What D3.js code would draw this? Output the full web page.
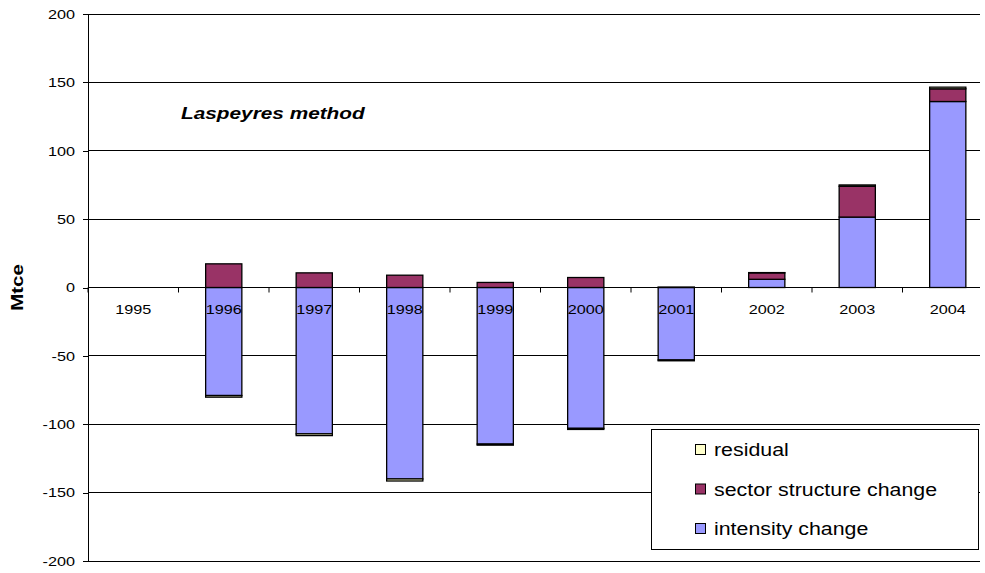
<!DOCTYPE html>
<html><head><meta charset="utf-8">
<script src="https://cdn.jsdelivr.net/npm/d3@7"></script>
<style>body{margin:0;background:#fff}svg{display:block;font-family:"Liberation Sans",Arial,sans-serif}</style>
</head><body><svg id="c" width="985" height="573"></svg>
<script>
const years = ["1995","1996","1997","1998","1999","2000","2001","2002","2003","2004"];
const intensity = [0, -79, -107, -140, -114.5, -103, -53, 6, 51.5, 136];
const sector = [0, 17.3, 10.7, 9, 3.7, 7.3, 0.3, 4.7, 22.5, 9.3];
const residual = [0, -1.2, -1.3, -1.5, -0.8, -0.8, -0.6, 0.2, 1, 1.2];
const yTicks = [-200,-150,-100,-50,0,50,100,150,200];
const seriesNames = ["intensity change","sector structure change","residual"];
const colors = {"intensity change":"#9999FF","sector structure change":"#993366","residual":"#FFFFCC"};

const svg = d3.select("#c");
const L=88, R=980, T=14, B=561;
const step = 90.5;
const x = d3.scaleBand().domain(years).range([L, L + step*years.length]).paddingInner(0.6).paddingOuter(0.3);
const y = d3.scaleLinear().domain([-200,200]).range([B,T]);

function stretch(sel, ratio){
  sel.each(function(){
    const len = this.getComputedTextLength();
    d3.select(this).attr("textLength", len*ratio).attr("lengthAdjust","spacingAndGlyphs");
  });
}

const rows = years.map((yr,i)=>({year:yr,"intensity change":intensity[i],"sector structure change":sector[i],"residual":residual[i]}));
const stack = d3.stack().keys(seriesNames).offset(d3.stackOffsetDiverging);
const layers = stack(rows);

// grid
svg.append("g").selectAll("line").data(yTicks).join("line")
  .attr("x1",L).attr("x2",R).attr("y1",d=>y(d)).attr("y2",d=>y(d))
  .attr("stroke","#000").attr("stroke-width",1).attr("shape-rendering","crispEdges");

// y axis
const ya = svg.append("g").attr("transform",`translate(${L},0)`)
  .call(d3.axisLeft(y).tickValues(yTicks).tickFormat(d=>String(d)).tickSize(5).tickPadding(8));
ya.select(".domain").attr("stroke","#000").attr("shape-rendering","crispEdges");
ya.selectAll("text").attr("font-size",13.5).attr("font-family","Liberation Sans, Arial").attr("fill","#000");
ya.selectAll("line").attr("stroke","#000").attr("shape-rendering","crispEdges");
stretch(ya.selectAll("text"), 1.2);

// bars
svg.append("g").selectAll("g").data(layers).join("g")
  .attr("fill",d=>colors[d.key])
  .selectAll("rect").data(d=>d).join("rect")
  .attr("x",d=>x(d.data.year)).attr("width",x.bandwidth())
  .attr("y",d=>y(Math.max(d[0],d[1]))).attr("height",d=>Math.abs(y(d[0])-y(d[1])))
  .attr("stroke","#000").attr("stroke-width",1.3);

// x axis at zero
const xa = svg.append("g");
xa.append("line").attr("x1",L).attr("x2",R).attr("y1",y(0)).attr("y2",y(0)).attr("stroke","#000").attr("shape-rendering","crispEdges");
const tickXs = d3.range(years.length).map(i=>L + i*step).filter(v=>v<=R);
xa.selectAll("line.t").data(tickXs).join("line").attr("class","t")
  .attr("x1",d=>d).attr("x2",d=>d).attr("y1",y(0)).attr("y2",y(0)+5).attr("stroke","#000");
const xl = xa.selectAll("text").data(years).join("text")
  .attr("x",d=>x(d)+x.bandwidth()/2).attr("y",y(0)+26.5)
  .attr("text-anchor","middle").attr("font-size",13.5).text(d=>d);
stretch(xl, 1.2);

// y label
const yl = svg.append("text").attr("transform",`translate(23,${y(0)}) rotate(-90)`)
  .attr("text-anchor","middle").attr("font-size",17).attr("font-weight","bold").text("Mtce");
stretch(yl, 1.2);

// title
const tt = svg.append("text").attr("x",181).attr("y",119).attr("font-size",16.5).attr("font-weight","bold").attr("font-style","italic").text("Laspeyres method");
stretch(tt, 1.26);

// legend
const lg = svg.append("g");
lg.append("rect").attr("x",651.5).attr("y",429.5).attr("width",327).attr("height",120).attr("fill","#fff").attr("stroke","#000");
const legItems = ["residual","sector structure change","intensity change"];
legItems.forEach((k,i)=>{
  const cy = 450 + i*39.5;
  lg.append("rect").attr("x",695.5).attr("y",cy-5.5).attr("width",10).attr("height",10).attr("fill",colors[k]).attr("stroke","#000");
  const t = lg.append("text").attr("x",714).attr("y",cy+6).attr("font-size",17.5).text(k);
  stretch(t, 1.22);
});
</script></body></html>
